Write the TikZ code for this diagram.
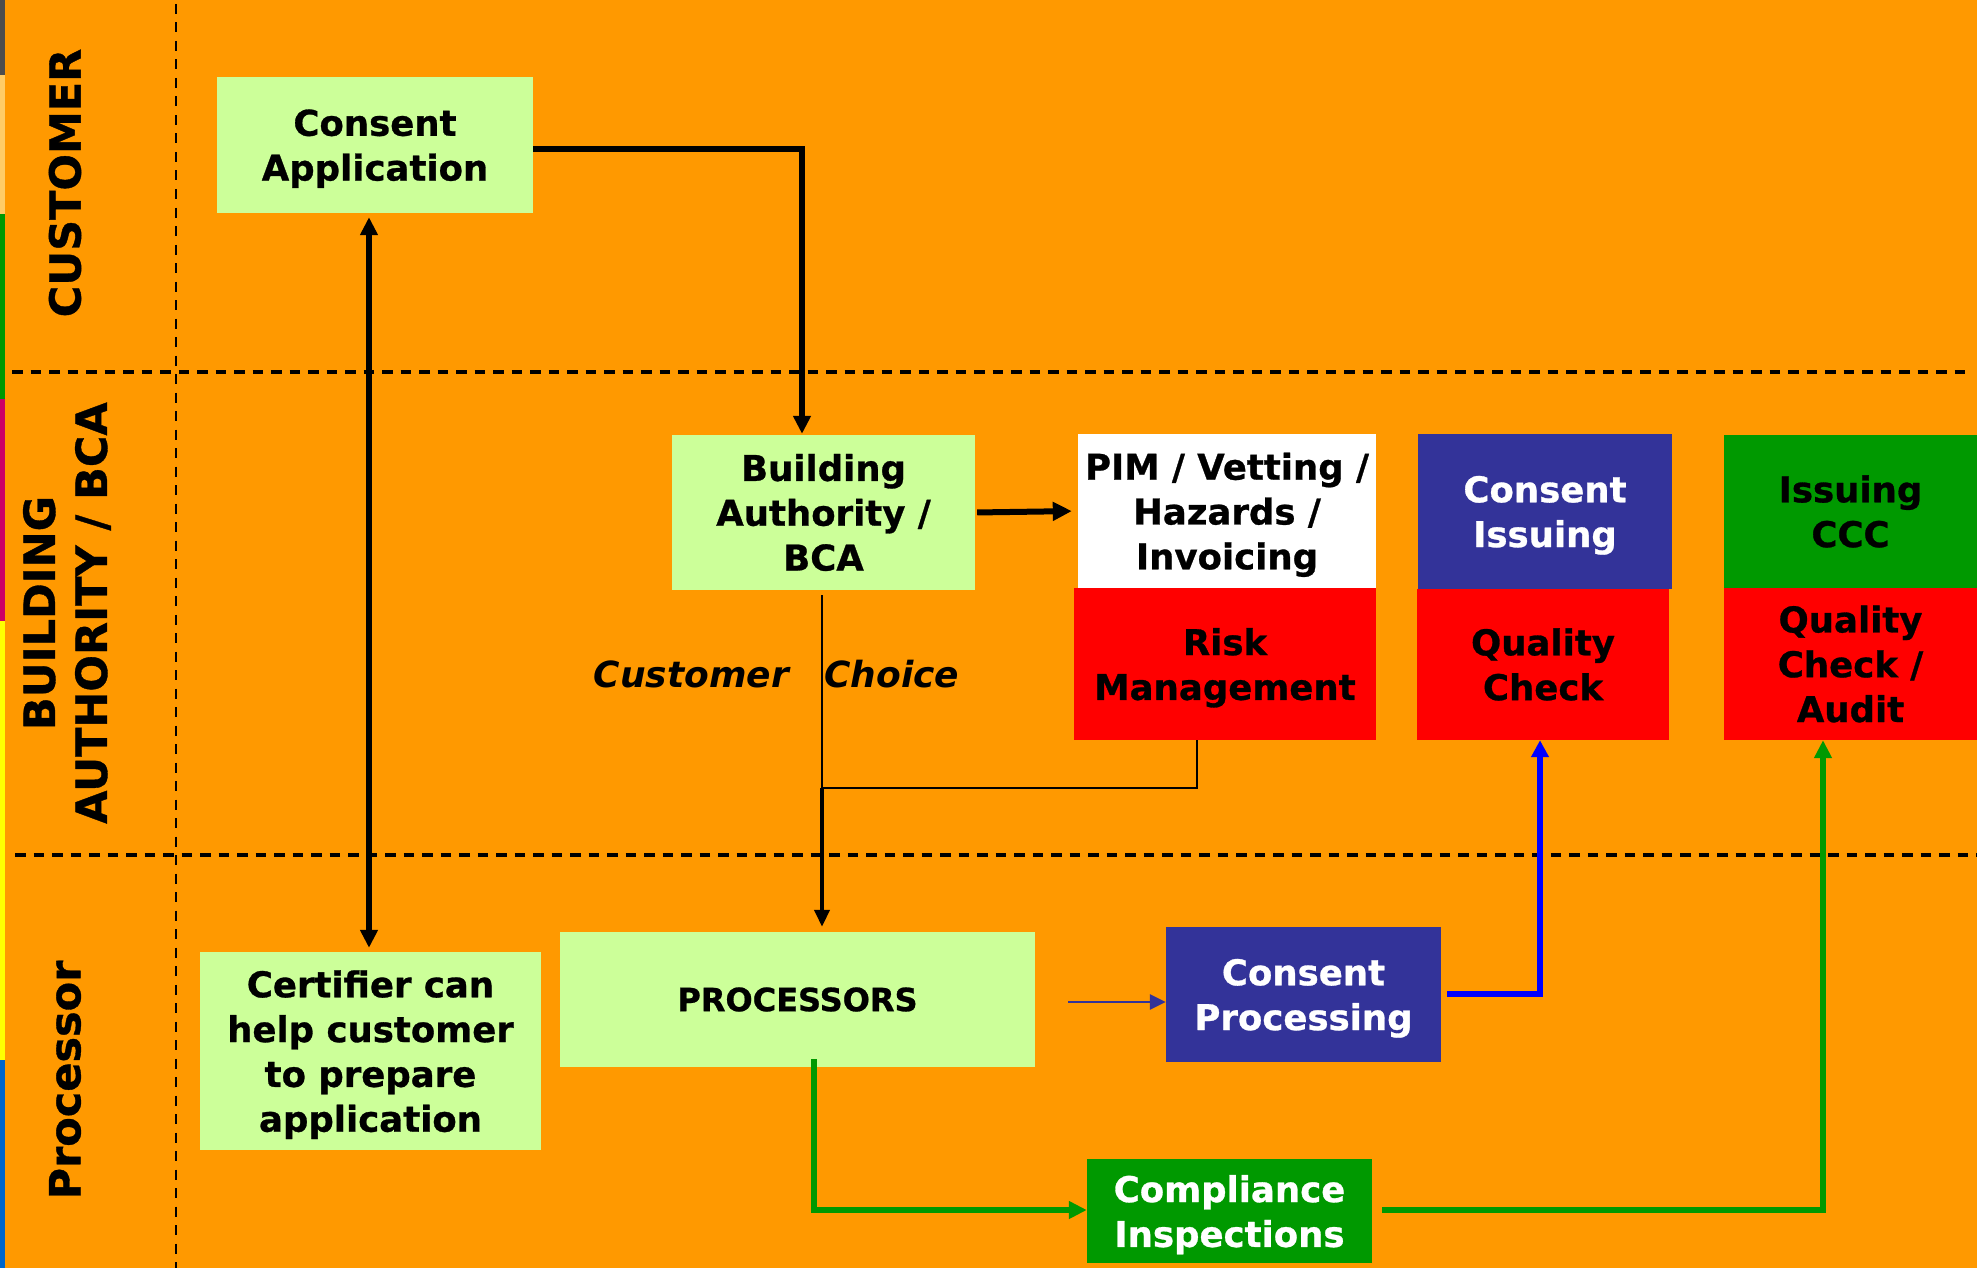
\documentclass[tikz,border=0pt]{standalone}
\usepackage{fontspec}
\setmainfont{DejaVu Sans}[BoldFeatures={FakeBold=0.8}]
\usetikzlibrary{arrows.meta,calc}
\definecolor{bgorange}{HTML}{FF9900}
\definecolor{lgreen}{HTML}{CCFF99}
\definecolor{dblue}{HTML}{333399}
\definecolor{pred}{HTML}{FF0000}
\definecolor{dgreen}{HTML}{009900}
\definecolor{pblue}{HTML}{0000FF}
\definecolor{stripgray}{HTML}{4D4D4D}
\definecolor{striplo}{HTML}{FFCC66}
\definecolor{stripmag}{HTML}{CC0066}
\definecolor{stripyel}{HTML}{FFFF00}
\definecolor{stripblue}{HTML}{0066CC}
\newcommand\bxfont{\fontsize{35.5}{44.8}\selectfont\bfseries}
\newcommand\sidefont{\fontsize{43}{52}\selectfont\bfseries}
\newcommand\nodp[1]{\raisebox{0pt}[\height][0pt]{#1}}
\begin{document}
\begin{tikzpicture}[x=1pt,y=-1pt,
  box/.style={inner sep=0pt, align=center, font=\bxfont, text=black},
  blk/.style={draw=black, line width=6pt, -{Triangle[length=18pt,width=17pt]}},
  sidelab/.style={rotate=90, align=center, font=\sidefont, inner sep=0pt},
  lanedash/.style={draw=black, line width=3.2pt, dash pattern=on 10.5pt off 8pt},
  vdash/.style={draw=black, line width=2.5pt, dash pattern=on 10pt off 8.5pt}
]
% background
\fill[bgorange] (0,0) rectangle (1977,1268);
\useasboundingbox (0,0) rectangle (1977,1268);
% left colour strip
\fill[stripgray] (0,0) rectangle (5,75);
\fill[striplo] (0,75) rectangle (5,214);
\fill[dgreen] (0,214) rectangle (5,399);
\fill[stripmag] (0,399) rectangle (5,621);
\fill[stripyel] (0,621) rectangle (5,1060);
\fill[stripblue] (0,1060) rectangle (5,1268);
% lane separators
\draw[vdash] (176,4) -- (176,1268);
\draw[lanedash] (12,372) -- (1965,372);
\draw[lanedash] (15,855) -- (1977,855);
% lane labels
\node[sidelab] (lcust) at (65,183) {CUSTOMER};
\node[sidelab] (lbca) at (67,613) {BUILDING\\AUTHORITY / BCA};
\node[sidelab] (lproc) at (65,1080) {Processor};
% boxes
\node[box, fill=lgreen, minimum width=316pt, minimum height=136pt] (ca) at (375,145) {Consent\\\nodp{Application}};
\node[box, fill=lgreen, minimum width=341pt, minimum height=198pt] (cert) at (370.5,1051) {Certifier can\\help customer\\to prepare\\\nodp{application}};
\node[box, fill=lgreen, minimum width=303pt, minimum height=155pt] (bca) at (823.5,512.5) {Building\\Authority /\\BCA};
\node[box, fill=white, minimum width=298pt, minimum height=154pt] (pim) at (1227,511) {PIM / Vetting /\\Hazards /\\\nodp{Invoicing}};
\node[box, fill=pred, minimum width=302pt, minimum height=152pt] (risk) at (1225,664) {Risk\\\nodp{Management}};
\node[box, fill=dblue, text=white, minimum width=254pt, minimum height=155pt] (ci) at (1545,511.5) {Consent\\\nodp{Issuing}};
\node[box, fill=pred, minimum width=252pt, minimum height=151pt] (qc) at (1543,664.5) {Quality\\Check};
\node[box, fill=dgreen, minimum width=253pt, minimum height=153pt] (ccc) at (1850.5,511.5) {Issuing\\CCC};
\node[box, fill=pred, minimum width=253pt, minimum height=152pt] (qca) at (1850.5,664) {Quality\\Check /\\Audit};
\node[box, fill=lgreen, minimum width=475pt, minimum height=135pt, font=\fontsize{32}{40}\selectfont\bfseries] (proc) at (797.5,999.5) {PROCESSORS};
\node[box, fill=dblue, text=white, minimum width=275pt, minimum height=135pt] (cp) at (1303.5,994.5) {Consent\\\nodp{Processing}};
\node[box, fill=dgreen, text=white, minimum width=285pt, minimum height=104pt] (comp) at (1229.5,1211) {Compliance\\\nodp{Inspections}};
% customer choice labels
\node[font=\fontsize{36}{44}\selectfont\bfseries\itshape, anchor=base east, inner sep=0pt] (cust) at (789,687) {Customer};
\node[font=\fontsize{36}{44}\selectfont\bfseries\itshape, anchor=base west, inner sep=0pt] (choice) at (824,687) {Choice};
% connectors
\coordinate (jn) at (822,788);
\draw[blk, shorten >=1pt] ($(ca.east)+(0,4)$) -| ($(bca.north)+(-21.5,0)$);
\draw[blk, line width=5.5pt, {Triangle[length=18pt,width=17pt]}-{Triangle[length=18pt,width=17pt]}, shorten <=4pt, shorten >=4pt] ($(ca.south)+(-6,0)$) -- ($(cert.north)+(-1.5,0)$);
\draw[blk, -{Triangle[length=19pt,width=18pt]}, shorten <=2pt, shorten >=6pt] (bca.east) -- (pim.west);
\draw[black, line width=2.8pt] ($(bca.south)+(-1.5,5)$) -- (jn);
\draw[black, line width=2.8pt] ($(risk.south)+(-28,0)$) |- (jn);
\draw[blk, line width=4pt, -{Triangle[length=17pt,width=15pt]}, shorten >=5pt] (jn) -- ($(proc.north)+(24.5,0)$);
\draw[dblue, line width=2.5pt, -{Triangle[length=16pt,width=15pt]}] ($(proc.east)+(33,2.5)$) -- ($(cp.west)+(0,7.5)$);
\draw[pblue, line width=6pt, -{Triangle[length=17pt,width=17pt]}] ($(cp.east)+(6,-0.5)$) -| ($(qc.south)+(-3,0)$);
\draw[dgreen, line width=5.5pt, -{Triangle[length=18pt,width=17pt]}] ($(proc.south)+(16.5,-8)$) |- ($(comp.west)+(0,-1)$);
\draw[dgreen, line width=5.5pt, -{Triangle[length=18pt,width=17pt]}] ($(comp.east)+(10,-1)$) -| ($(qca.south)+(-27.5,0)$);
\end{tikzpicture}
\end{document}
